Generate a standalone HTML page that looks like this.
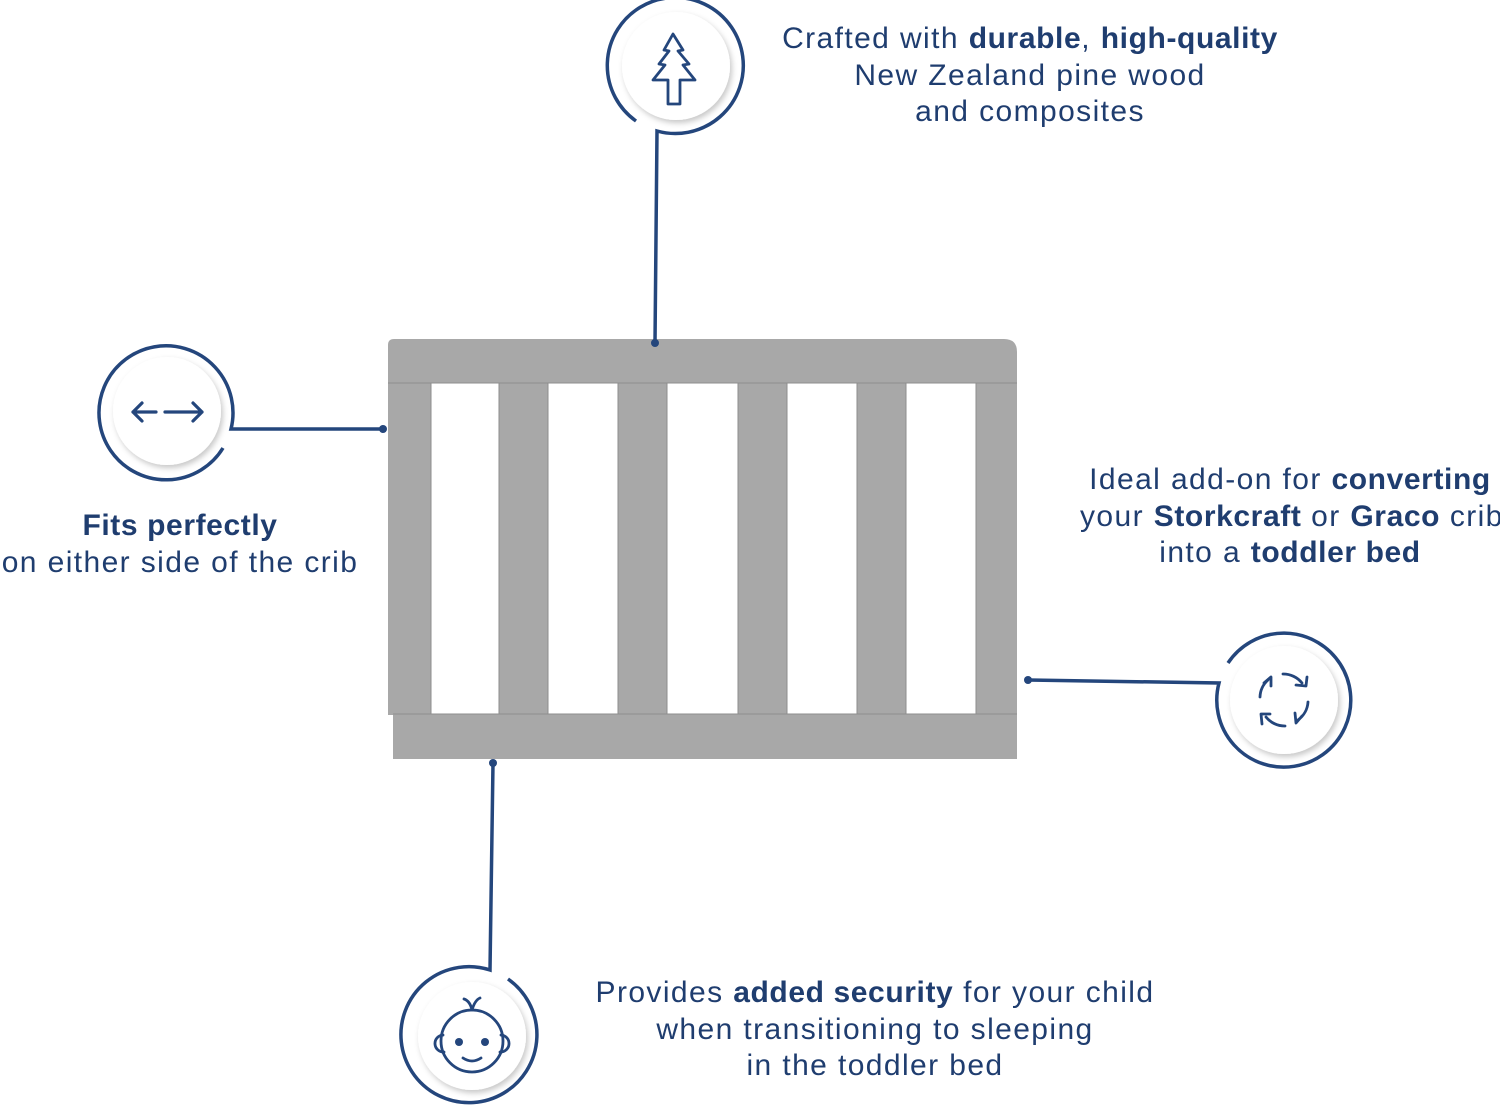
<!DOCTYPE html>
<html><head><meta charset="utf-8"><style>
html,body{margin:0;padding:0;background:#fff;}
body{width:1500px;height:1107px;position:relative;overflow:hidden;font-family:"Liberation Sans",sans-serif;color:#1f3d6f;}
.t{position:absolute;text-align:center;font-size:30px;line-height:36.5px;letter-spacing:1.4px;white-space:nowrap;}
b{font-weight:bold;letter-spacing:0.6px;}
</style></head><body>
<svg width="1500" height="1107" style="position:absolute;left:0;top:0">
<defs>
<filter id="sh" x="-30%" y="-30%" width="160%" height="160%"><feDropShadow dx="2" dy="3" stdDeviation="3" flood-color="#000" flood-opacity="0.22"/></filter>
</defs>
<g fill="#a8a8a8">
<path d="M388,345 Q388,339 394,339 L1004,339 Q1017,339 1017,352 L1017,383 L388,383 Z"/>
<rect x="388" y="383" width="43" height="332"/>
<rect x="499" y="383" width="49" height="332"/>
<rect x="618" y="383" width="49" height="332"/>
<rect x="738" y="383" width="49" height="332"/>
<rect x="857" y="383" width="49" height="332"/>
<rect x="976" y="383" width="41" height="332"/>
<rect x="393" y="714" width="624" height="45"/>
</g>
<g stroke="#8e8e8e" stroke-width="1" fill="none">
<line x1="388" y1="383" x2="1017" y2="383"/>
<line x1="393" y1="714" x2="1017" y2="714"/>
<line x1="431" y1="383" x2="431" y2="714"/><line x1="499" y1="383" x2="499" y2="714"/><line x1="548" y1="383" x2="548" y2="714"/>
<line x1="618" y1="383" x2="618" y2="714"/><line x1="667" y1="383" x2="667" y2="714"/>
<line x1="738" y1="383" x2="738" y2="714"/><line x1="787" y1="383" x2="787" y2="714"/>
<line x1="857" y1="383" x2="857" y2="714"/><line x1="906" y1="383" x2="906" y2="714"/><line x1="976" y1="383" x2="976" y2="714"/>
</g>
<g stroke="#24467c" stroke-width="3.5" fill="none">
<path d="M655,343 L657,131 A68,68 0 1 0 636,121"/>
<path d="M383,429 L231,429 A67,67 0 1 0 223,448"/>
<path d="M1028,680 L1219,683 A67,67 0 1 0 1228,663"/>
<path d="M493,763 L490,970 A68,68 0 1 0 508,979"/>
</g>
<g fill="#24467c"><circle cx="655" cy="343" r="4"/><circle cx="383" cy="429" r="4"/><circle cx="1028" cy="680" r="4"/><circle cx="493" cy="763" r="4"/></g>
<g fill="#fff" filter="url(#sh)">
<circle cx="676" cy="66" r="54"/><circle cx="167" cy="411" r="54"/><circle cx="1284" cy="700" r="54"/><circle cx="472" cy="1036" r="54"/>
</g>
<g stroke="#24467c" stroke-width="2.8" fill="none" stroke-linejoin="round" stroke-linecap="round">
<path d="M673,34 L683,50 L678,51 L689,64 L683,65 L695,80 L680,80 L680,104 L668,104 L668,80 L653,80 L665,65 L659,64 L669,51 L664,50 Z"/>
<path d="M133,412 L156,412 M142,403 L133,412 L142,421 M165,412 L202,412 M193,403 L202,412 L193,421" stroke-width="3.2"/>
<path d="M1260,697 A24,24 0 0 1 1268,680 M1264,683 L1271,677 L1271,686"/>
<path d="M1283,674 A24,24 0 0 1 1302,683 M1296,685 L1306,686 L1307,677"/>
<path d="M1308,702 A24,24 0 0 1 1298,720 M1302,716 L1296,723 L1295,713"/>
<path d="M1285,726 A24,24 0 0 1 1266,717 M1262,724 L1261,714 L1270,714"/>
<circle cx="472" cy="1041" r="31"/>
<path d="M443,1035 A8,8 0 0 0 444,1052 M501,1035 A8,8 0 0 1 500,1052"/>
<path d="M463,1058 Q472,1064 481,1058"/>
<path d="M472,1010 Q470,1001 464,999 M472,1010 Q475,1000 480,998"/>
</g>
<g fill="#24467c"><circle cx="459" cy="1042" r="4"/><circle cx="485" cy="1042" r="4"/></g>
</svg>
<div class="t" style="left:730px;top:21px;width:600px">Crafted with <b>durable</b>, <b>high-quality</b><br>New Zealand pine wood<br>and composites</div>
<div class="t" style="left:-20px;top:508px;width:400px"><b>Fits perfectly</b><br>on either side of the crib</div>
<div class="t" style="left:1080px;top:462px;width:420px">Ideal add-on for <b>converting</b><br>your <b>Storkcraft</b> or <b>Graco</b> crib<br>into a <b>toddler bed</b></div>
<div class="t" style="left:575px;top:975px;width:600px">Provides <b>added security</b> for your child<br>when transitioning to sleeping<br>in the toddler bed</div>
</body></html>
